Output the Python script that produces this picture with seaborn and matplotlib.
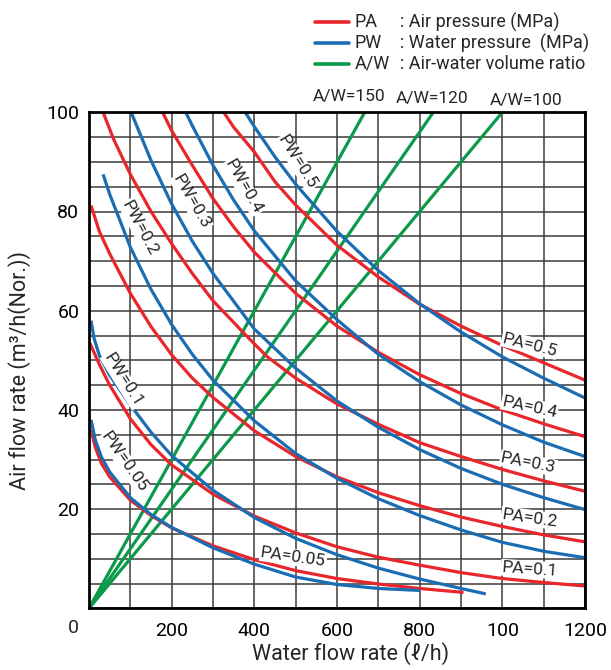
import matplotlib
matplotlib.use("Agg")
import matplotlib.pyplot as plt
import seaborn as sns
import pandas as pd
import numpy as np

sns.set_theme(style="white")
FONTS = ['Roboto', 'DejaVu Sans']
plt.rcParams['font.family'] = FONTS

RED = '#E8262B'
BLUE = '#1B6DB3'
GREEN = '#0A9A4A'

# ---- data (water flow l/h, air flow m3/h) ----
pa05_x = [326, 350, 400, 450, 500, 600, 700, 800, 900, 1000, 1100, 1200]
pa05_y = [100, 97, 92, 86, 81.3, 73.2, 66.8, 61.3, 56.9, 53, 49.5, 46]
pw05_x = [378, 400, 450, 500, 600, 700, 800, 900, 1000, 1100, 1200]
pw05_y = [100, 97.1, 91, 85.5, 76, 68.1, 61.4, 55.7, 50.7, 46.4, 42.4]
pa04_x = [178, 200, 250, 300, 350, 400, 500, 600, 700, 800, 900, 1000, 1100, 1200]
pa04_y = [100, 96.3, 89.3, 82.6, 76.9, 71.8, 63.5, 56.9, 51.6, 47.1, 43.3, 40, 37.2, 34.6]
pw04_x = [234, 250, 300, 350, 400, 500, 600, 700, 800, 900, 1000, 1100, 1200]
pw04_y = [100, 97.3, 89.3, 82.3, 76.1, 66, 58.2, 51.2, 45.7, 41, 37, 33.5, 30.6]
pa03_x = [34, 60, 100, 150, 200, 250, 300, 386, 430, 500, 600, 700, 800, 900, 1000, 1100, 1200]
pa03_y = [100, 94.5, 87.5, 80, 73.5, 67.5, 62, 54.5, 50.8, 46.4, 41.2, 37.1, 33.4, 30.6, 28, 25.7, 23.6]
pw03_x = [102, 150, 200, 250, 300, 400, 500, 600, 700, 800, 900, 1000, 1100, 1200]
pw03_y = [100, 90.3, 81.5, 74, 67.5, 56.3, 48.4, 41.8, 36.5, 32, 28.2, 25, 22.3, 19.9]
pa02_x = [5, 25, 50, 100, 150, 200, 250, 300, 400, 500, 600, 700, 800, 900, 1000, 1100, 1200]
pa02_y = [81.2, 76, 71.5, 63.5, 56.8, 51.1, 46.4, 42.5, 35.8, 30.6, 26.5, 23.3, 20.7, 18.4, 16.5, 14.8, 13.4]
pw02_x = [34, 50, 100, 150, 200, 250, 300, 400, 500, 600, 700, 800, 900, 1000, 1100, 1200]
pw02_y = [87.5, 83.5, 72.8, 64.3, 57.2, 51.2, 46, 37.8, 31.2, 26.2, 22.1, 18.7, 15.8, 13.3, 11.5, 10.2]
pa01_x = [2, 26, 50, 100, 150, 200, 300, 400, 500, 600, 700, 800, 900, 1000, 1100, 1200]
pa01_y = [53.5, 49, 45, 38.2, 33, 28.9, 23, 18.6, 15.2, 12.4, 10.3, 8.7, 7.2, 6, 5.2, 4.5]
pw01_x = [5, 12, 25, 50, 100, 150, 200, 300, 400, 500, 600, 700, 800, 900, 960]
pw01_y = [58, 54.5, 51, 47, 41, 35.5, 30.8, 23.8, 18.3, 14.1, 10.8, 8.1, 5.9, 4, 2.9]
pa005_x = [5, 15, 30, 50, 100, 150, 200, 300, 400, 500, 600, 700, 800, 906]
pa005_y = [36, 32.5, 29.2, 26.5, 21.8, 18.7, 16.2, 12.6, 9.8, 7.6, 6, 4.9, 4, 3.2]
pw005_x = [5, 15, 30, 50, 100, 150, 200, 300, 400, 500, 600, 700, 800]
pw005_y = [38, 34, 30.5, 27.5, 22.3, 18.9, 16.3, 12.2, 8.9, 6.3, 4.8, 4, 3.6]

aw_ratios = ['150', '120', '100']
aw_water = [[0, 667], [0, 833], [0, 1000]]
aw_air = [[0, 100], [0, 100], [0, 100]]

pa_labels = ['PA=0.5', 'PA=0.4', 'PA=0.3', 'PA=0.2', 'PA=0.1', 'PA=0.05']
pw_labels = ['PW=0.5', 'PW=0.4', 'PW=0.3', 'PW=0.2', 'PW=0.1', 'PW=0.05']
x_ticklabels = ['200', '400', '600', '800', '100', '1200']
y_ticklabels = ['20', '40', '60', '80', '100']

# ---- figure ----
W, H = 611, 670
fig = plt.figure(figsize=(W / 100, H / 100), dpi=100)
L, R, T, B = 89, 585, 112.3, 608.3
ax = fig.add_axes([L / W, 1 - B / H, (R - L) / W, (B - T) / H])

def draw(xs, ys, color, z=3):
    df = pd.DataFrame({'water': xs, 'air': ys})
    sns.lineplot(data=df, x='water', y='air', color=color, lw=2.3, sort=False,
                 estimator=None, ax=ax, zorder=z, solid_capstyle='butt',
                 solid_joinstyle='round')

for wx, ay in zip(aw_water, aw_air):
    draw(wx, ay, GREEN, 3)
for xs, ys in [(pa05_x, pa05_y), (pa04_x, pa04_y), (pa03_x, pa03_y),
               (pa02_x, pa02_y), (pa01_x, pa01_y), (pa005_x, pa005_y)]:
    draw(xs, ys, RED, 4)
for xs, ys in [(pw05_x, pw05_y), (pw04_x, pw04_y), (pw03_x, pw03_y),
               (pw02_x, pw02_y), (pw01_x, pw01_y), (pw005_x, pw005_y)]:
    draw(xs, ys, BLUE, 5)

ax.set_xlim(0, 1200)
ax.set_ylim(0, 100)
ax.set_xticks(np.arange(0, 1201, 100))
ax.set_xticklabels(['' if (v % 200 or v == 0) else x_ticklabels[v // 200 - 1]
                    for v in range(0, 1201, 100)])
ax.set_yticks(np.arange(0, 101, 5))
ax.set_yticklabels(['' if (v % 20 or v == 0) else y_ticklabels[v // 20 - 1]
                    for v in range(0, 101, 5)])
ax.grid(True, color='#3a3a3a', lw=1.1, zorder=1)
ax.set_axisbelow(True)
ax.tick_params(axis='both', length=0, labelsize=14, colors='black')
ax.tick_params(axis='y', pad=7)
ax.tick_params(axis='x', pad=10)
for s in ax.spines.values():
    s.set_color('black')
    s.set_linewidth(2.0)
    s.set_zorder(10)
ax.set_xlabel('')
ax.set_ylabel('')

# origin label
fig.text(73 / W, 1 - 628 / H, '0', fontsize=14, ha='center', va='center')

# axis titles
fig.text(351 / W, 1 - 654 / H, 'Water flow rate (ℓ/h)', fontsize=15.5,
         ha='center', va='center', family=FONTS)
fig.text(20 / W, 1 - 370 / H, 'Air flow rate (m³/h(Nor.))', fontsize=15.5,
         ha='center', va='center', rotation=90, family=FONTS)

# A/W labels
for txt, px, py in zip(aw_ratios, [349, 432, 526], [97, 98, 100]):
    fig.text(px / W, 1 - py / H, 'A/W=' + txt, fontsize=12.5, ha='center', va='center')

# curve labels
bbox = dict(facecolor='white', edgecolor='none', pad=0.6)
pa_pos = [(1066, 53.1, -14), (1066, 40.6, -12), (1063, 29.3, -11),
          (1066, 18.2, -8), (1066, 7.9, -4), (494, 10.3, -8)]
for lab, (x, y, r) in zip(pa_labels, pa_pos):
    ax.text(x, y, lab, fontsize=12.5, rotation=r, ha='center', va='center',
            bbox=bbox, zorder=8, rotation_mode='anchor')
pw_pos = [(504, 90, -58), (374, 85, -60), (247, 81.9, -60),
          (122, 76.6, -62), (82, 46, -58), (86, 29.5, -55)]
for lab, (x, y, r) in zip(pw_labels, pw_pos):
    ax.text(x, y, lab, fontsize=12.5, rotation=r, ha='center', va='center',
            bbox=bbox, zorder=8, rotation_mode='anchor')

# legend
leg = [(RED, 'PA', ': Air pressure (MPa)'),
       (BLUE, 'PW', ': Water pressure  (MPa)'),
       (GREEN, 'A/W', ': Air-water volume ratio')]
for i, (c, code, desc) in enumerate(leg):
    py = [22, 43, 64][i]
    fig.add_artist(plt.Line2D([315 / W, 349 / W], [1 - py / H, 1 - py / H],
                              color=c, lw=2.6, transform=fig.transFigure))
    fig.text(355 / W, 1 - py / H, code, fontsize=13, ha='left', va='center')
    fig.text(400 / W, 1 - py / H, desc, fontsize=13, ha='left', va='center')

fig.savefig('out.png', dpi=100)
